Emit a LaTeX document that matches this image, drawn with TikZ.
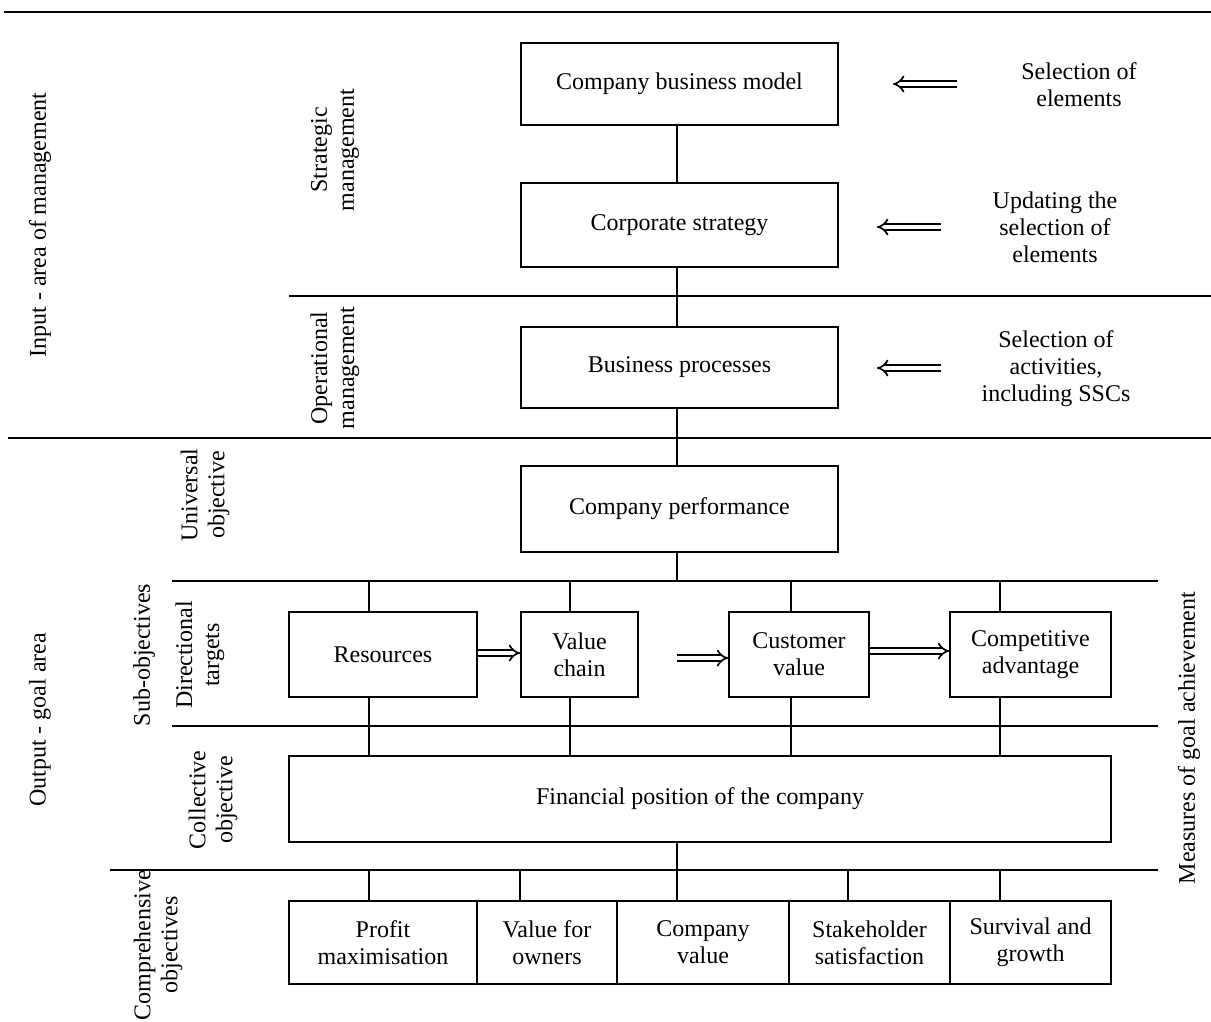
\documentclass[tikz,border=0pt]{standalone}
\usepackage{fontspec}
\setmainfont{Liberation Serif}
\usetikzlibrary{arrows.meta}
\begin{document}
\begin{tikzpicture}[x=1pt,y=-1pt,
  box/.style={draw,line width=1.6pt,align=center,font=\fontsize{24}{27}\selectfont,inner sep=0pt},
  lbl/.style={align=center,font=\fontsize{24}{27}\selectfont},
  rlbl/.style={lbl,rotate=90},
  ln/.style={line width=1.6pt},
  dbl/.style={double,double distance=4pt,line width=1.7pt,-{Implies}}]
\useasboundingbox (0,0) rectangle (1211,1021);
% frame lines
\draw[line width=2.2pt] (4,12) -- (1211,12);
\draw[ln] (289,296) -- (1211,296);
\draw[ln] (8,438) -- (1211,438);
\draw[ln] (172,581) -- (1158,581);
\draw[ln] (172,726) -- (1158,726);
\draw[ln] (110,870) -- (1158,870);
% boxes
\node[box,minimum width=317pt,minimum height=82pt] (cbm) at (679.5,84) {Company business model};
\node[box,minimum width=317pt,minimum height=84pt] (cs) at (679.5,225) {Corporate strategy};
\node[box,minimum width=317pt,minimum height=81pt] (bp) at (679.5,367.5) {Business processes};
\node[box,minimum width=317pt,minimum height=86pt] (cp) at (679.5,509) {Company performance};
\node[box,minimum width=188pt,minimum height=85pt] (res) at (383,654.5) {Resources};
\node[box,minimum width=117pt,minimum height=85pt] (vc) at (579.5,654.5) {Value\\chain};
\node[box,minimum width=140pt,minimum height=85pt] (cv) at (799,654.5) {Customer\\value};
\node[box,minimum width=161pt,minimum height=85pt] (ca) at (1030.5,654.5) {Competitive\\advantage};
\node[box,minimum width=822pt,minimum height=86pt] (fp) at (700,799) {Financial position of the company};
\node[box,minimum width=188pt,minimum height=83pt] (pm) at (383,942.5) {Profit\\maximisation};
\node[box,minimum width=140pt,minimum height=83pt] (vo) at (547,942.5) {Value for\\owners};
\node[box,minimum width=172pt,minimum height=83pt] (cov) at (703,942.5) {Company\\value};
\node[box,minimum width=161pt,minimum height=83pt] (ss) at (869.5,942.5) {Stakeholder\\satisfaction};
\node[box,minimum width=161pt,minimum height=83pt] (sg) at (1030.5,942.5) {Survival and\\growth};
% central connectors
\draw[ln] (cbm.south -| 677,0) -- (cs.north -| 677,0);
\draw[ln] (cs.south -| 677,0) -- (bp.north -| 677,0);
\draw[ln] (bp.south -| 677,0) -- (cp.north -| 677,0);
\draw[ln] (cp.south -| 677,0) -- (677,581);
\draw[ln] (fp.south -| 677,0) -- (677,870);
% directional connectors
\foreach \x in {369,570,791,1000}{
  \draw[ln] (\x,581) -- (\x,612);
  \draw[ln] (\x,697) -- (\x,756);
}
\foreach \x in {369,520,677,848,1000}{
  \draw[ln] (\x,870) -- (\x,901);
}
% right texts
\node[lbl] (t1) at (1079,85) {Selection of\\elements};
\node[lbl] (t2) at (1055,227) {Updating the\\selection of\\elements};
\node[lbl] (t3) at (1056,369) {Selection of\\activities,\\including SSCs};
\coordinate (a1) at (957,84);
\coordinate (a2) at (941,227);
\coordinate (a3) at (941,368);
\coordinate (b1) at (893,84);
\coordinate (b2) at (877,227);
\coordinate (b3) at (877,368);
\draw[dbl] (a1) -- (b1);
\draw[dbl] (a2) -- (b2);
\draw[dbl] (a3) -- (b3);
% horizontal arrows
\coordinate (c2) at (677,658);
\draw[dbl] (res.east |- 0,653) -- (vc.west |- 0,653);
\draw[dbl] (c2) -- (cv.west |- c2);
\draw[dbl] (cv.east |- 0,651) -- (ca.west |- 0,651);
% side labels
\node[rlbl] (l1) at (335,150) {Strategic\\management};
\node[rlbl] (l2) at (335,368) {Operational\\management};
\node[rlbl] (l3) at (40,225) {Input - area of management};
\node[rlbl] (l4) at (205,495) {Universal\\objective};
\node[rlbl] (l5) at (144,655) {Sub-objectives};
\node[rlbl] (l6) at (200,655) {Directional\\targets};
\node[rlbl] (l7) at (213,800) {Collective\\objective};
\node[rlbl] (l8) at (40,720) {Output - goal area};
\node[rlbl] (l9) at (158,945) {Comprehensive\\objectives};
\node[rlbl] (l10) at (1189,738) {Measures of goal achievement};
\end{tikzpicture}
\end{document}
